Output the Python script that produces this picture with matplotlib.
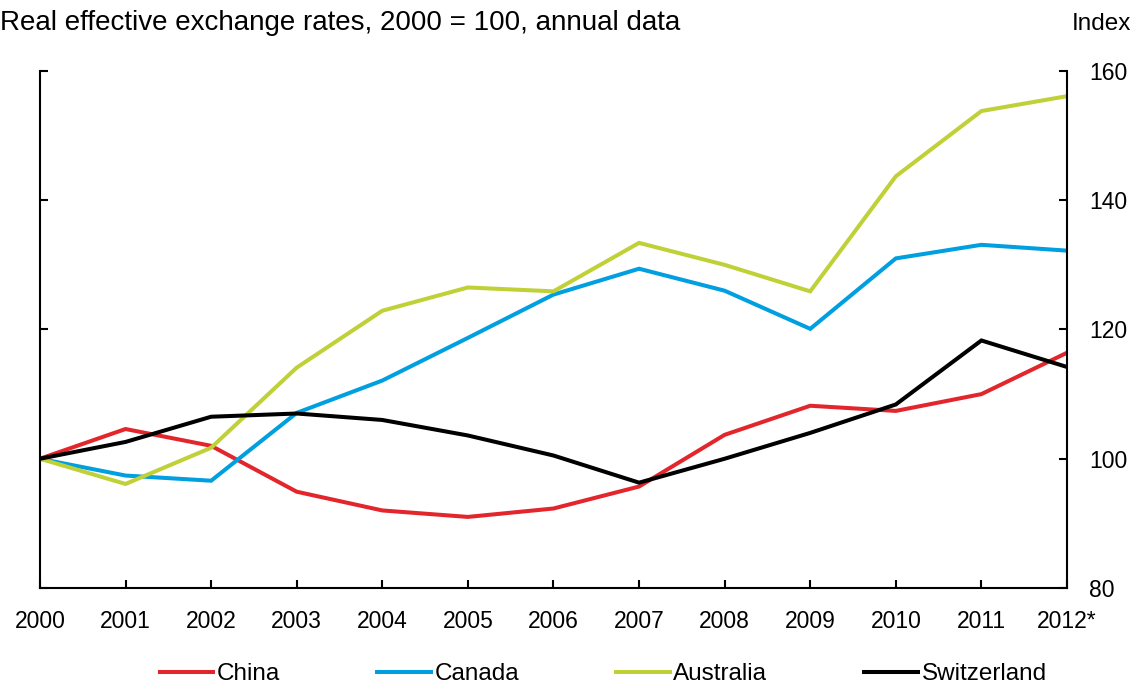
import numpy as np
import matplotlib.pyplot as plt

plt.rcParams['font.family'] = ['Liberation Sans', 'DejaVu Sans']

# Annual data, 2000 = 100
years = np.arange(2000, 2013)
year_labels = [str(y) for y in years[:-1]] + ["2012*"]
china = [100, 104.6, 102.0, 94.9, 92.0, 91.0, 92.3, 95.7, 103.7, 108.2, 107.4, 110.0, 116.4]
canada = [100, 97.4, 96.6, 107.1, 112.1, 118.7, 125.4, 129.4, 126.0, 120.1, 131.0, 133.1, 132.2]
australia = [100, 96.1, 101.7, 114.1, 122.9, 126.5, 125.9, 133.4, 130.0, 125.9, 143.7, 153.8, 156.1]
switzerland = [100, 102.6, 106.5, 107.0, 106.0, 103.6, 100.5, 96.3, 100.0, 104.0, 108.4, 118.3, 114.2]

series = [
    ("China", china, "#e2262b"),
    ("Canada", canada, "#009fe0"),
    ("Australia", australia, "#bfd137"),
    ("Switzerland", switzerland, "#000000"),
]

fig = plt.figure(figsize=(11.38, 6.85), dpi=100)
ax = fig.add_axes([0.0351, 0.1416, 0.9025, 0.7548])

for name, vals, col in series:
    ax.plot(years, vals, color=col, lw=2.9, label=name, solid_joinstyle='miter')

ax.set_xlim(2000, 2012)
ax.set_ylim(80, 160)
ax.set_xticks(years)
ax.set_xticklabels(year_labels)
ax.set_yticks([80, 100, 120, 140, 160])

ax.spines['top'].set_visible(False)
for s in ['left', 'right', 'bottom']:
    ax.spines[s].set_linewidth(1.5)

ax.yaxis.tick_right()
ax.tick_params(axis='y', which='both', direction='in', length=6, width=1.5,
               left=True, right=True, labelleft=False, labelright=True,
               labelsize=16.5, pad=16)
ax.tick_params(axis='x', direction='in', length=6, width=1.5, labelsize=16.5, pad=16)

fig.text(0.0, 0.967, "Real effective exchange rates, 2000 = 100, annual data",
         fontsize=20, ha='left', va='center')
fig.text(0.994, 0.965, "Index", fontsize=17.5, ha='right', va='center')

fig.legend(loc='center', bbox_to_anchor=(0.53, 0.016), ncol=4, frameon=False,
           fontsize=17.5, handlelength=2.2, handletextpad=0.15, columnspacing=4.0)

fig.savefig("out.png", dpi=100)
